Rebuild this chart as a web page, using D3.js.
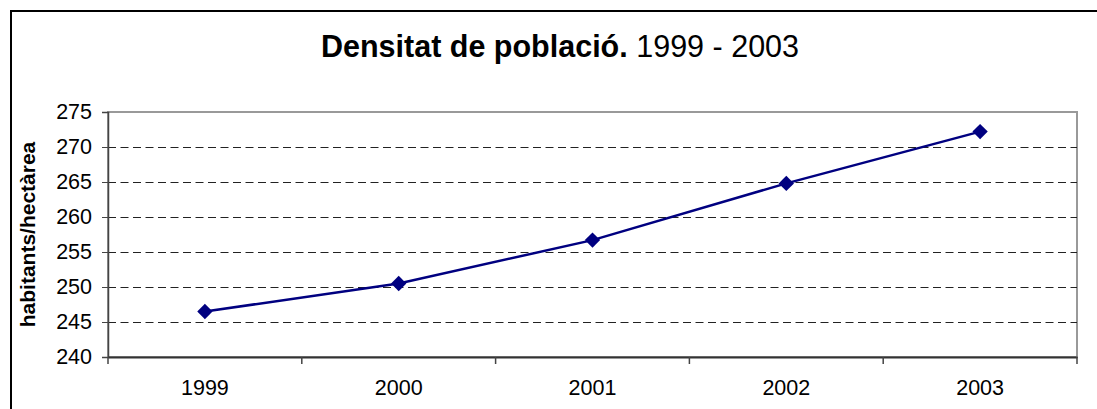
<!DOCTYPE html>
<html>
<head>
<meta charset="utf-8">
<script src="https://cdn.jsdelivr.net/npm/d3@7"></script>
<style>
  html, body { margin: 0; padding: 0; background: #fff; }
  svg { display: block; font-family: Arial, "Liberation Sans", sans-serif; }
</style>
</head>
<body>
<div id="chart"></div>
<script>
// data
const years = ['1999', '2000', '2001', '2002', '2003'];
const density = [246.5, 250.5, 256.7, 264.8, 272.2];
const yTicks = [240, 245, 250, 255, 260, 265, 270, 275];

const width = 1097;
const height = 409;
const margin = { top: 112, right: 20, bottom: 52, left: 108 };
const plotW = 1077 - margin.left;
const plotH = 357 - margin.top;

const svg = d3.select('#chart')
              .append('svg')
              .attr('width', width)
              .attr('height', height);

// outer chart frame (right and bottom run off the picture)
svg.append('rect')
   .attr('x', 11)
   .attr('y', 11)
   .attr('width', width + 20)
   .attr('height', height + 20)
   .attr('fill', 'none')
   .attr('stroke', '#000')
   .attr('stroke-width', 2);

// title
const title = svg.append('text')
                 .attr('x', 560)
                 .attr('y', 57)
                 .attr('text-anchor', 'middle')
                 .style('font-size', '30.5px')
                 .attr('fill', '#000');
title.append('tspan').style('font-weight', 'bold').text('Densitat de població.');
title.append('tspan').text(' 1999 - 2003');

const g = svg.append('g')
             .attr('transform', `translate(${margin.left}, ${margin.top})`);

const xScale = d3.scaleBand()
                 .domain(years)
                 .range([0, plotW]);

const yScale = d3.scaleLinear()
                 .domain([240, 275])
                 .range([plotH, 0]);

// plot area border
g.append('rect')
 .attr('width', plotW)
 .attr('height', plotH)
 .attr('fill', '#fff')
 .attr('stroke', '#999')
 .attr('stroke-width', 2);

// dashed gridlines
g.selectAll('.grid')
 .data(yTicks.filter(d => d > 240 && d < 275))
 .enter()
 .append('line')
 .attr('class', 'grid')
 .attr('x1', 0)
 .attr('x2', plotW)
 .attr('y1', d => Math.round(yScale(d)) + 0.5)
 .attr('y2', d => Math.round(yScale(d)) + 0.5)
 .attr('stroke', '#222')
 .attr('stroke-width', 1)
 .attr('stroke-dasharray', '8,4.5');

// y axis
const yAxis = d3.axisLeft(yScale)
                .tickValues(yTicks)
                .tickSize(6)
                .tickPadding(10)
                .tickFormat(d3.format('d'));

g.append('g')
 .call(yAxis)
 .call(a => a.select('.domain').attr('stroke', '#444').attr('stroke-width', 1.5))
 .call(a => a.selectAll('.tick line').attr('stroke', '#444'))
 .call(a => a.selectAll('text').style('font-size', '21.5px').attr('fill', '#000').style('font-family', 'Arial, "Liberation Sans", sans-serif'));

// x axis: labels centred in bands, ticks at band edges
const xAxis = d3.axisBottom(xScale)
                .tickSize(0)
                .tickPadding(23);

g.append('g')
 .attr('transform', `translate(0, ${plotH})`)
 .call(xAxis)
 .call(a => a.select('.domain').attr('stroke', '#333').attr('stroke-width', 2))
 .call(a => a.selectAll('text').style('font-size', '21.5px').attr('fill', '#000').style('font-family', 'Arial, "Liberation Sans", sans-serif'));

g.selectAll('.xtick')
 .data(years.concat(['end']))
 .enter()
 .append('line')
 .attr('class', 'xtick')
 .attr('x1', (d, i) => i * xScale.bandwidth())
 .attr('x2', (d, i) => i * xScale.bandwidth())
 .attr('y1', plotH)
 .attr('y2', plotH + 7)
 .attr('stroke', '#444')
 .attr('stroke-width', 1.5);

// y axis title
svg.append('text')
   .attr('transform', `translate(35, ${margin.top + plotH / 2}) rotate(-90)`)
   .attr('text-anchor', 'middle')
   .style('font-size', '21px')
   .style('font-weight', 'bold')
   .text('habitants/hectàrea');

// series line
const line = d3.line()
               .x((d, i) => xScale(years[i]) + xScale.bandwidth() / 2)
               .y(d => yScale(d));

g.append('path')
 .datum(density)
 .attr('d', line)
 .attr('fill', 'none')
 .attr('stroke', '#000080')
 .attr('stroke-width', 2.5);

// diamond markers
g.selectAll('.marker')
 .data(density)
 .enter()
 .append('path')
 .attr('class', 'marker')
 .attr('d', d3.symbol().type(d3.symbolDiamond2).size(150))
 .attr('transform', (d, i) => `translate(${xScale(years[i]) + xScale.bandwidth() / 2}, ${yScale(d)})`)
 .attr('fill', '#000080');
</script>
</body>
</html>
